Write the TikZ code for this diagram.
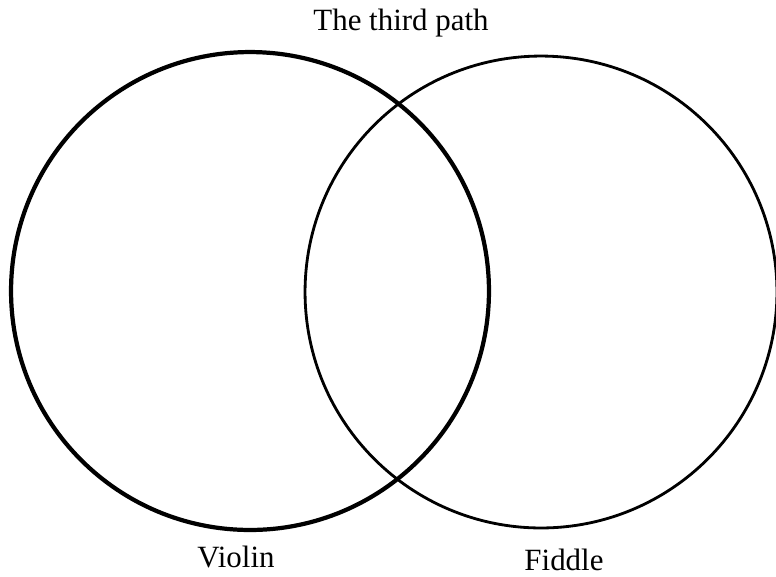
\documentclass[tikz,border=0pt]{standalone}
\usepackage{fontspec}
\setmainfont{Liberation Serif}

\begin{document}
\begin{tikzpicture}[
    x=0.02cm,
    y=-0.02cm,
    set/.style={
        circle,
        draw,
        inner sep=0pt,
        color=black
    },
    label/.style={
        font=\fontsize{17.6}{20}\selectfont,
        inner sep=1pt
    }
]
    \useasboundingbox (0,0) rectangle (776,576);

    % Circles
    \node [set, line width=2.4pt, minimum size=9.56cm] (violin) at (250,291) {};
    \node [set, line width=1.6pt, minimum size=9.44cm] (fiddle) at (541,292) {};

    % Labels
    \node [label] (third) at (401,23) {The third path};
    \node [label] (violinlabel) at (236,557) {Violin};
    \node [label] (fiddlelabel) at (564,560) {Fiddle};
\end{tikzpicture}
\end{document}
